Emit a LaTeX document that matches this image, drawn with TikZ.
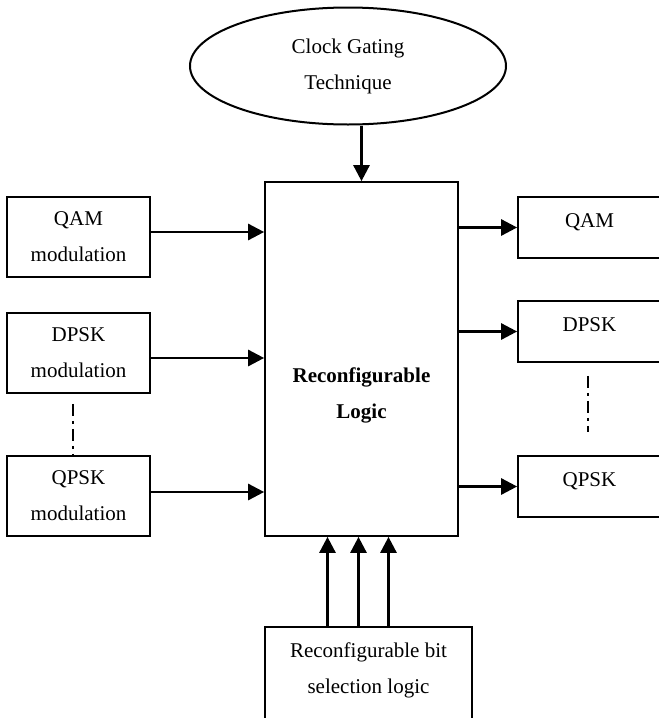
\documentclass[tikz,border=0pt]{standalone}
\usepackage{fontspec}
\setmainfont{Liberation Serif}
\usetikzlibrary{shapes.geometric,arrows.meta}

\begin{document}
\begin{tikzpicture}[x=1pt,y=-1pt,
  every node/.style={font=\fontsize{21}{36}\selectfont},
  box/.style={draw,line width=1.7pt,inner sep=0pt},
  inbox/.style={box,minimum width=143pt,minimum height=80pt,align=center},
  outbox/.style={box,minimum width=143pt,minimum height=61pt,text height=14pt,text depth=14pt},
  arr/.style={line width=2.7pt,-{Triangle[length=16pt,width=16pt]}},
  dots/.style={line width=1.6pt,dash pattern=on 12pt off 5pt on 3pt off 5pt}]
\useasboundingbox (0,0) rectangle (659,718);

\node[ellipse,draw,line width=2pt,minimum width=316pt,minimum height=117pt,inner sep=0pt,align=center] (clock) at (348,66) {Clock Gating\\Technique};

\node[box,minimum width=193pt,minimum height=354pt] (logic) at (361.5,359) {};
\node[font=\fontsize{21}{36}\selectfont\bfseries,align=center] (logictext) at (361.5,395) {Reconfigurable\\Logic};

\node[inbox] (qamin) at (78.5,237) {QAM\\modulation};
\node[inbox] (dpskin) at (78.5,353) {DPSK\\modulation};
\node[inbox] (qpskin) at (78.5,496) {QPSK\\modulation};

\node[outbox] (qamout) at (589.5,227.5) {QAM};
\node[outbox] (dpskout) at (589.5,331.5) {DPSK};
\node[outbox] (qpskout) at (589.5,486.5) {QPSK};

\node[box,minimum width=207pt,minimum height=130pt] (sel) at (368.5,692) {};
\node[align=center] (seltext) at (368.5,670) {Reconfigurable bit\\selection logic};

\draw[arr] (clock.south -| logic.north) -- (logic.north);

\draw[arr] ([yshift=5pt]qamin.east) -- ([yshift=5pt]qamin.east -| logic.west);
\draw[arr] ([yshift=-5pt]dpskin.east) -- ([yshift=-5pt]dpskin.east -| logic.west);
\draw[arr] ([yshift=4pt]qpskin.east) -- ([yshift=4pt]qpskin.east -| logic.west);

\foreach \n in {qamout,dpskout,qpskout}{
    \draw[arr] (\n.west -| logic.east) -- (\n.west);
}

\foreach \dx in {-41,-10,20}{
    \draw[arr] ([xshift=\dx pt]sel.north) -- ([xshift=\dx pt]sel.north |- logic.south);
}

\draw[dots] ([xshift=-5.5pt,yshift=-10pt]dpskin.south) -- ([xshift=-5.5pt]qpskin.north);
\draw[dots] ([xshift=-1.5pt,yshift=-13pt]dpskout.south) -- ([xshift=-1.5pt,yshift=23pt]qpskout.north);
\end{tikzpicture}
\end{document}
